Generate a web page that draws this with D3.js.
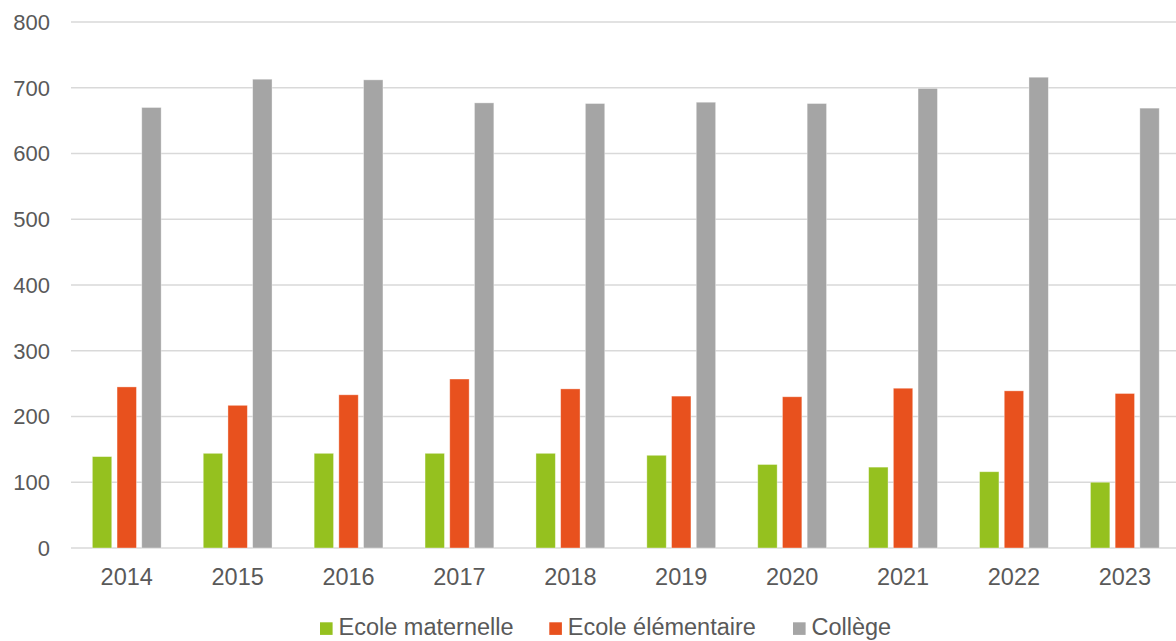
<!DOCTYPE html>
<html>
<head>
<meta charset="utf-8">
<script src="https://cdn.jsdelivr.net/npm/d3@7"></script>
<style>
  html, body { margin: 0; padding: 0; background: #fff; }
  svg { display: block; font-family: "Liberation Sans", Arial, sans-serif; }
</style>
</head>
<body>
<svg id="chart" width="1176" height="641"></svg>
<script>
const years = ["2014","2015","2016","2017","2018","2019","2020","2021","2022","2023"];
const seriesNames = ["Ecole maternelle", "Ecole élémentaire", "Collège"];
const maternelle = [139, 144, 144, 144, 144, 141, 127, 123, 116, 100];
const elementaire = [245, 217, 233, 257, 242, 231, 230, 243, 239, 235];
const college = [670, 713, 712, 677, 676, 678, 676, 699, 716, 669];
const yTicks = [0, 100, 200, 300, 400, 500, 600, 700, 800];
const colors = ["#95C11F", "#E8511E", "#A5A5A5"];

const seriesValues = [maternelle, elementaire, college];
const svg = d3.select("#chart");

const x = d3.scaleBand().domain(years).range([71.3, 1180.3]).paddingInner(0).paddingOuter(0);
const y = d3.scaleLinear().domain([0, 800]).range([548, 22]);

// gridlines
svg.append("g").selectAll("line").data(yTicks).join("line")
  .attr("x1", 71).attr("x2", 1176)
  .attr("y1", d => y(d)).attr("y2", d => y(d))
  .attr("stroke", "#D9D9D9").attr("stroke-width", 1.5);

// y labels
svg.append("g").selectAll("text").data(yTicks).join("text")
  .attr("x", 50).attr("y", d => y(d))
  .attr("dy", "0.36em")
  .attr("text-anchor", "end")
  .attr("font-size", "22px")
  .attr("fill", "#595959")
  .text(d => d);

// bars
const barW = 19.4, barStep = 24.7;
const groupW = barStep * 2 + barW;
const g = svg.append("g");
seriesValues.forEach((vals, si) => {
  g.selectAll(".s" + si).data(years.map((yr, i) => ({yr, v: vals[i]}))).join("rect")
    .attr("class", "s" + si)
    .attr("x", d => x(d.yr) + x.bandwidth() / 2 - groupW / 2 + si * barStep)
    .attr("width", barW)
    .attr("y", d => y(d.v))
    .attr("height", d => y(0) - y(d.v))
    .attr("fill", colors[si])
    .attr("stroke", "#ffffff").attr("stroke-opacity", 0.45).attr("stroke-width", 0.8);
});

// x labels
svg.append("g").selectAll("text").data(years).join("text")
  .attr("x", d => x(d) + x.bandwidth() / 2)
  .attr("y", 584.5)
  .attr("text-anchor", "middle")
  .attr("font-size", "23.5px")
  .attr("fill", "#595959")
  .text(d => d);

// legend
const legendX = [320, 549.3, 793];
const lg = svg.append("g");
seriesNames.forEach((name, i) => {
  lg.append("rect").attr("x", legendX[i]).attr("y", 622.3).attr("width", 12.6).attr("height", 12.6)
    .attr("fill", colors[i]);
  lg.append("text").attr("x", legendX[i] + 18.5).attr("y", 634.5)
    .attr("font-size", "23.5px").attr("fill", "#595959").text(name);
});
</script>
</body>
</html>
